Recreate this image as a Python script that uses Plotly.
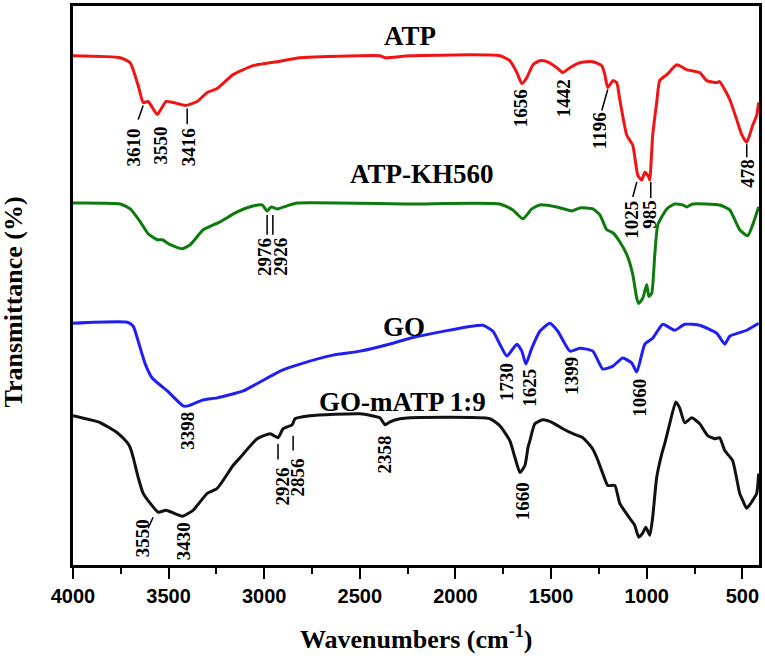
import plotly.graph_objects as go

# ---------------- data (wavenumber cm-1, offset transmittance a.u.) ----------------
atp_wn = [4000, 3753, 3701, 3659, 3633, 3607, 3560, 3544, 3513, 3476, 3413, 3351, 3298, 3246,
          3163, 3058, 2933, 2813, 2499, 2395, 2369, 2238, 1768, 1716, 1679, 1653, 1627, 1595,
          1559, 1522, 1470, 1439, 1402, 1350, 1282, 1235, 1219, 1204, 1177, 1157, 1141, 1104,
          1073, 1047, 1026, 1010, 989, 984, 969, 948, 932, 895, 843, 791, 723, 686, 634, 619,
          566, 530, 504, 477, 446, 425, 415]
atp_t = [512, 510, 505, 482, 465, 466, 453, 457, 466, 465, 462, 466, 475, 479,
         493, 502, 506, 510, 512, 512, 510, 512, 512, 507, 495, 484, 490, 503,
         507, 506, 500, 495, 500, 505, 506, 502, 493, 480, 487, 485, 468, 432,
         422, 392, 387, 395, 390, 387, 432, 465, 487, 493, 503, 498, 495, 487, 485, 486,
         468, 448, 433, 425, 442, 452, 465]

kh_wn = [4000, 3753, 3701, 3648, 3607, 3560, 3533, 3492, 3429, 3387, 3319, 3231, 3142, 3058,
         3011, 2985, 2964, 2933, 2865, 2828, 2238, 1768, 1700, 1648, 1601, 1559, 1470, 1392,
         1350, 1282, 1245, 1209, 1177, 1141, 1104, 1073, 1052, 1042, 1021, 1000, 989, 974,
         958, 942, 895, 854, 812, 791, 760, 619, 566, 514, 472, 446, 415]
kh_t = [364, 363, 358, 345, 333, 327, 327, 322, 318, 322, 337, 345, 355, 361,
        362, 356, 360, 358, 362, 364, 363, 363, 357, 348, 358, 362, 360, 356,
        359, 358, 352, 337, 334, 325, 312, 292, 268, 263, 268, 282, 270, 273,
        312, 342, 358, 363, 362, 360, 363, 362, 357, 337, 331, 342, 360]

go_wn = [4000, 3716, 3685, 3659, 3622, 3586, 3507, 3424, 3398, 3319, 3246, 3110, 2917, 2813,
         2640, 2499, 2327, 2238, 1857, 1804, 1768, 1731, 1679, 1653, 1632, 1601, 1559, 1507,
         1465, 1402, 1350, 1282, 1230, 1177, 1125, 1078, 1052, 1010, 969, 916, 854, 801, 723,
         634, 592, 566, 477, 415]
go_t = [243, 244, 240, 225, 202, 188, 175, 160, 160, 166, 168, 175, 195, 202,
        211, 215, 223, 228, 241, 235, 222, 210, 222, 215, 202, 218, 235, 243,
        235, 215, 218, 215, 197, 200, 208, 203, 194, 222, 228, 242, 236, 242, 241,
        233, 222, 230, 236, 243]

mix_wn = [4000, 3857, 3769, 3716, 3701, 3685, 3659, 3633, 3596, 3554, 3513, 3429, 3372, 3298,
          3246, 3163, 3126, 3037, 2969, 2928, 2901, 2854, 2839, 2760, 2499, 2395, 2369, 2342,
          2290, 2238, 1820, 1768, 1716, 1689, 1663, 1637, 1621, 1611, 1585, 1543, 1491, 1439,
          1386, 1334, 1287, 1261, 1230, 1204, 1167, 1141, 1089, 1063, 1042, 1021, 1005, 984,
          969, 948, 921, 906, 880, 848, 828, 801, 765, 723, 681, 645, 619, 592, 551, 514,
          498, 477, 446, 425, 415]
mix_t = [150, 143, 133, 123, 118, 108, 88, 72, 62, 53, 55, 49, 55, 72,
         77, 100, 108, 127, 132, 128, 137, 141, 147, 150, 152, 148, 141, 144,
         147, 148, 147, 140, 125, 108, 93, 100, 118, 125, 142, 146, 143, 137,
         132, 128, 118, 108, 92, 80, 80, 62, 47, 40, 28, 32, 38, 30,
         48, 88, 112, 122, 142, 164, 158, 143, 148, 142, 130, 127, 128, 115, 105, 72,
         65, 57, 65, 72, 92]

series_names = ["ATP", "ATP-KH560", "GO", "GO-mATP 1:9"]
x_ticks = [4000, 3500, 3000, 2500, 2000, 1500, 1000, 500]

# ---------------- figure ----------------
fig = go.Figure()
curves = [(atp_wn, atp_t, "#f01414"), (kh_wn, kh_t, "#0d7a0d"),
          (go_wn, go_t, "#1f1ff2"), (mix_wn, mix_t, "#111111")]
for (xs, ys, col), name in zip(curves, series_names):
    fig.add_trace(go.Scatter(x=xs, y=ys, mode="lines", name=name,
                             line=dict(color=col, width=3, shape="spline", smoothing=0.5),
                             showlegend=False, hoverinfo="skip"))

serif = "Liberation Serif, Times New Roman, serif"

# curve names
name_pos = [(2238, 532), (2175, 393), (2270, 239), (2275, 164)]
for name, (x, y) in zip(series_names, name_pos):
    fig.add_annotation(x=x, y=y, xref="x", yref="y", text="<b>%s</b>" % name,
                       showarrow=False, font=dict(family=serif, size=27, color="black"),
                       xanchor="center", yanchor="middle")

# peak labels: (text, x, y)
peaks = [("3610", 3685, 420), ("3550", 3544, 422), ("3416", 3398, 420),
         ("1656", 1658, 459), ("1442", 1434, 469), ("1196", 1250, 437),
         ("478", 477, 394), ("1025", 1078, 347), ("985", 984, 353),
         ("2976", 3000, 310), ("2926", 2912, 310),
         ("3398", 3398, 135), ("1730", 1731, 184), ("1625", 1611, 178),
         ("1399", 1397, 190), ("1060", 1036, 168),
         ("3550", 3638, 27), ("3430", 3424, 24), ("2926", 2907, 79),
         ("2856", 2828, 88), ("2358", 2369, 111), ("1660", 1648, 64)]
for txt, x, y in peaks:
    fig.add_annotation(x=x, y=y, xref="x", yref="y", text="<b>%s</b>" % txt,
                       showarrow=False, textangle=-90,
                       font=dict(family=serif, size=19, color="black"),
                       xanchor="center", yanchor="middle")

# leader lines
leaders = [(3659, 448, 3633, 462), (3403, 443, 3403, 459), (1235, 457, 1204, 478),
           (477, 410, 477, 423), (1073, 370, 1052, 385), (979, 369, 979, 385),
           (2985, 332, 2985, 352), (2955, 332, 2955, 352),
           (3607, 37, 3581, 48), (2928, 106, 2928, 122), (2849, 115, 2849, 130)]
for x0, y0, x1, y1 in leaders:
    fig.add_shape(type="line", xref="x", yref="y", x0=x0, y0=y0, x1=x1, y1=y1,
                  line=dict(color="black", width=1.5))

# axis titles
fig.add_annotation(x=0.5, y=-0.13, xref="paper", yref="paper",
                   text="<b>Wavenumbers (cm<sup>-1</sup>)</b>", showarrow=False,
                   font=dict(family=serif, size=26, color="black"),
                   xanchor="center", yanchor="middle")
fig.add_annotation(x=-0.0875, y=0.4715, xref="paper", yref="paper",
                   text="<b>Transmittance (%)</b>", showarrow=False, textangle=-90,
                   font=dict(family=serif, size=26, color="black"),
                   xanchor="center", yanchor="middle")

fig.update_xaxes(range=[4000, 413], tickvals=x_ticks, ticktext=["<b>%d</b>" % v for v in x_ticks],
                 ticks="outside", ticklen=11, tickwidth=2, tickcolor="black",
                 minor=dict(dtick=250, ticks="outside", ticklen=6, tickwidth=2, tickcolor="black",
                            showgrid=False),
                 showline=True, linewidth=2.5, linecolor="black", mirror=True,
                 showgrid=False, zeroline=False,
                 tickfont=dict(family="Liberation Sans, Arial, sans-serif", size=20, color="black"))
fig.update_yaxes(range=[0, 562], showticklabels=False, ticks="", showline=True,
                 linewidth=2.5, linecolor="black", mirror=True, showgrid=False, zeroline=False)

fig.update_layout(width=765, height=658, margin=dict(l=73, r=6, t=3, b=93),
                  plot_bgcolor="white", paper_bgcolor="white")

fig.write_html("out.html", config={"displayModeBar": False},
               post_script="document.body.style.margin='0';document.body.style.overflow='hidden';")
